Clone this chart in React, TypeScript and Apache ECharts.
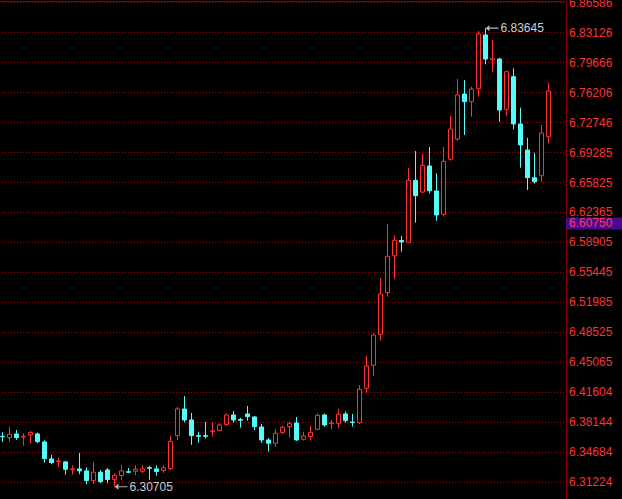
import React, { useEffect, useRef } from "react";
import * as echarts from "echarts";

// [open, close, lowest, highest]
const candles: number[][] = [
  [6.36530, 6.36472, 6.35876, 6.36991],
  [6.36376, 6.36761, 6.35915, 6.37645],
  [6.36799, 6.36376, 6.36107, 6.37260],
  [6.36453, 6.36530, 6.35454, 6.36876],
  [6.36684, 6.36953, 6.35723, 6.37145],
  [6.36799, 6.35915, 6.35723, 6.36953],
  [6.35876, 6.33954, 6.33493, 6.36069],
  [6.33916, 6.33493, 6.33301, 6.34377],
  [6.33608, 6.33685, 6.32955, 6.34070],
  [6.33570, 6.32724, 6.32109, 6.33685],
  [6.32686, 6.32763, 6.32109, 6.33186],
  [6.32763, 6.32532, 6.32148, 6.34608],
  [6.32532, 6.31417, 6.30995, 6.32955],
  [6.31417, 6.32378, 6.30995, 6.33570],
  [6.32378, 6.31302, 6.31110, 6.32647],
  [6.32647, 6.31533, 6.31110, 6.32878],
  [6.31533, 6.32032, 6.30705, 6.32263],
  [6.31994, 6.32532, 6.31494, 6.33186],
  [6.32436, 6.32378, 6.32263, 6.32878],
  [6.32494, 6.32724, 6.32032, 6.33186],
  [6.32494, 6.32763, 6.32263, 6.33186],
  [6.32917, 6.32840, 6.31494, 6.33109],
  [6.32763, 6.32455, 6.31994, 6.33186],
  [6.32571, 6.32878, 6.32302, 6.33186],
  [6.32801, 6.35953, 6.32609, 6.36568],
  [6.36607, 6.39682, 6.36107, 6.39913],
  [6.39682, 6.38413, 6.38144, 6.41181],
  [6.38413, 6.36607, 6.35530, 6.39221],
  [6.36607, 6.36530, 6.35800, 6.37068],
  [6.36607, 6.36530, 6.36261, 6.38183],
  [6.37068, 6.37145, 6.36491, 6.38106],
  [6.37183, 6.37837, 6.37145, 6.38029],
  [6.37875, 6.38990, 6.37722, 6.39182],
  [6.38990, 6.38413, 6.38106, 6.39451],
  [6.38452, 6.38375, 6.37529, 6.38644],
  [6.39105, 6.38798, 6.38337, 6.40028],
  [6.38759, 6.37645, 6.37260, 6.38875],
  [6.37606, 6.36107, 6.35761, 6.37952],
  [6.36107, 6.35723, 6.34762, 6.36338],
  [6.35723, 6.36876, 6.35338, 6.37337],
  [6.36953, 6.37568, 6.36799, 6.37722],
  [6.37645, 6.37991, 6.36376, 6.38221],
  [6.38068, 6.36107, 6.35992, 6.38759],
  [6.36184, 6.36568, 6.36030, 6.37068],
  [6.36491, 6.36991, 6.36030, 6.37722],
  [6.37337, 6.38952, 6.37260, 6.39182],
  [6.38990, 6.37837, 6.37645, 6.39144],
  [6.37991, 6.38068, 6.37337, 6.38413],
  [6.38029, 6.39067, 6.37452, 6.39720],
  [6.39105, 6.38337, 6.38106, 6.39413],
  [6.38183, 6.38106, 6.37645, 6.39105],
  [6.38097, 6.41953, 6.37947, 6.42449],
  [6.42068, 6.44643, 6.41560, 6.45798],
  [6.44724, 6.48222, 6.43488, 6.48418],
  [6.48303, 6.52955, 6.47564, 6.54837],
  [6.53105, 6.57308, 6.52644, 6.61037],
  [6.57377, 6.59155, 6.54722, 6.59732],
  [6.59132, 6.58959, 6.57839, 6.59652],
  [6.58924, 6.66082, 6.58890, 6.67502],
  [6.66082, 6.64304, 6.61187, 6.69465],
  [6.64731, 6.67814, 6.64581, 6.69118],
  [6.67733, 6.64881, 6.64581, 6.69927],
  [6.64847, 6.62076, 6.61418, 6.66890],
  [6.62157, 6.68276, 6.61880, 6.69927],
  [6.68507, 6.72005, 6.68345, 6.73506],
  [6.70850, 6.75930, 6.70654, 6.77777],
  [6.76045, 6.75156, 6.71312, 6.77662],
  [6.75156, 6.76623, 6.73425, 6.76888],
  [6.76657, 6.82972, 6.75734, 6.83319],
  [6.82857, 6.80086, 6.79474, 6.83645],
  [6.79971, 6.80121, 6.78620, 6.82280],
  [6.80086, 6.74198, 6.72847, 6.80236],
  [6.74279, 6.78620, 6.73506, 6.78735],
  [6.78043, 6.72582, 6.71970, 6.79012],
  [6.72582, 6.70157, 6.67537, 6.74464],
  [6.69580, 6.66382, 6.64962, 6.71000],
  [6.66382, 6.65920, 6.65690, 6.69268],
  [6.66613, 6.71543, 6.65920, 6.72466],
  [6.71116, 6.76392, 6.70354, 6.77350],
];

const categories: string[] = Array.from({ length: 81 }, (_, i) => String(i + 1));

const tickValues: number[] = [
  6.31224, 6.34684, 6.38144, 6.41604, 6.45065, 6.48525, 6.51985, 6.55445,
  6.58905, 6.62365, 6.65825, 6.69285, 6.72746, 6.76206, 6.79666, 6.83126, 6.86586,
];

const yMin = 6.29288;
const yMax = 6.86782;
const currentPrice = 6.6075;

const UP = "#ff3232";
const DOWN = "#54fcfc";
const FONT = "'Liberation Sans', Arial, sans-serif";

export default function App() {
  const ref = useRef<HTMLDivElement>(null);
  useEffect(() => {
    if (!ref.current) return;
    const chart = echarts.init(ref.current, null, { renderer: "svg" });
    chart.setOption({
      animation: false,
      backgroundColor: "#000000",
      grid: { left: -1, right: 56, top: 1, bottom: 0, containLabel: false, outerBoundsMode: "none" },
      xAxis: {
        type: "category",
        data: categories,
        position: "top",
        boundaryGap: true,
        axisLine: { show: true, lineStyle: { color: "#800000", width: 1 } },
        axisTick: { show: false },
        axisLabel: { show: false },
        splitLine: { show: false },
      },
      yAxis: {
        type: "value",
        position: "right",
        min: yMin,
        max: yMax,
        scale: true,
        axisLine: { show: true, lineStyle: { color: "#8b0000", width: 1 } },
        axisTick: { show: false, customValues: tickValues },
        axisLabel: {
          customValues: tickValues,
          color: UP,
          fontSize: 12,
          fontFamily: FONT,
          margin: 3,
          formatter: (v: number) => v.toFixed(5),
        },
        splitLine: {
          show: true,
          lineStyle: { color: "#b00000", type: [1, 2], width: 1 },
        },
      },
      series: [
        {
          type: "candlestick",
          data: candles,
          barWidth: 4,
          itemStyle: {
            color: "#000000",
            color0: DOWN,
            borderColor: UP,
            borderColor0: DOWN,
            borderWidth: 1,
          },
          markPoint: {
            symbol: "path://M0,3 L4,0.5 L4,2.5 L13,2.5 L13,3.5 L4,3.5 L4,5.5 Z",
            symbolSize: [13, 6],
            symbolOffset: ["50%", 0],
            itemStyle: { color: "#b4b4b4" },
            label: {
              show: true,
              position: "right",
              distance: 2,
              color: "#c8d0d8",
              fontSize: 12,
              fontFamily: FONT,
              formatter: (p: any) => Number(p.value).toFixed(5),
            },
            data: [
              { type: "max", valueDim: "highest" },
              { type: "min", valueDim: "lowest" },
            ],
          },
        },
      ],
    });
    const py = chart.convertToPixel({ yAxisIndex: 0 }, currentPrice) as number;
    const px = chart.convertToPixel({ xAxisIndex: 0 }, categories[categories.length - 1]) as number;
    const axisX = px + 3.5;
    chart.setOption({
      graphic: [
        {
          type: "rect",
          shape: { x: axisX, y: py - 9, width: 622 - axisX, height: 12 },
          style: { fill: "#4a0a90" },
          z: 100,
        },
        {
          type: "text",
          x: axisX + 3,
          y: py - 3,
          style: {
            text: currentPrice.toFixed(5),
            fill: "#ff3a5a",
            font: `12px ${FONT}`,
            verticalAlign: "middle",
          },
          z: 101,
        },
      ],
    });
    return () => chart.dispose();
  }, []);
  return (
    <div
      ref={ref}
      style={{ position: "fixed", left: 0, top: 0, width: 622, height: 499 }}
    />
  );
}
